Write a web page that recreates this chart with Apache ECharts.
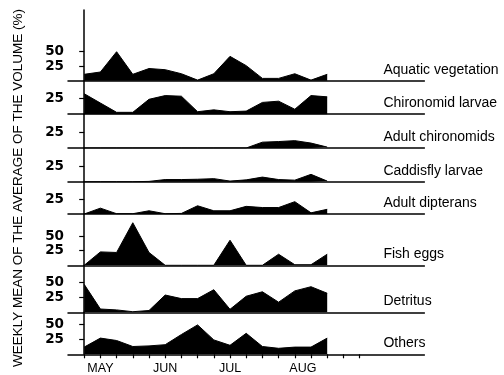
<!DOCTYPE html>
<html>
<head>
<meta charset="utf-8">
<script src="https://cdn.jsdelivr.net/npm/echarts@6/dist/echarts.min.js"></script>
<style>
  html, body { margin: 0; padding: 0; background: #fff; }
  #chart { width: 504px; height: 375px; }
</style>
</head>
<body>
<div id="chart"></div>
<script>
// weekly values (%), one point per week from early May to late August
const aquaticVegetation = [11, 15, 50, 11, 21, 19, 12, 1, 12, 42, 26, 4, 4, 12, 1, 11]
const chironomidLarvae = [33, 18, 3, 3, 24, 30, 29, 4, 7, 4, 5, 19, 21, 8, 30, 28]
const adultChironomids = [0, 0, 0, 0, 0, 0, 0, 0, 0, 0, 0, 9.5, 10.5, 12, 8, 1.5]
const caddisflyLarvae = [0, 0, 0, 0, 0.5, 3.5, 3.5, 4, 5, 1, 3, 7.5, 3.5, 2.5, 12, 1]
const adultDipterans = [0, 10, 0.5, 0.5, 5.5, 0.5, 1, 14, 5.5, 5.5, 13, 11, 11, 21, 2, 8]
const fishEggs = [0, 23, 22, 73, 22, 0, 0, 0, 0, 43, 0, 0, 19, 1, 1, 19]
const detritus = [47, 5.5, 4, 1, 3, 29, 23, 23, 38, 5, 27, 34.5, 17, 36, 43, 32]
const others = [12, 27, 23, 13, 14, 16, 33, 49, 24, 15, 35, 13, 10, 12, 12, 27]

const panelNames = ['Aquatic vegetation', 'Chironomid larvae', 'Adult chironomids', 'Caddisfly larvae',
  'Adult dipterans', 'Fish eggs', 'Detritus', 'Others']
const panelData = [aquaticVegetation, chironomidLarvae, adultChironomids, caddisflyLarvae,
  adultDipterans, fishEggs, detritus, others]
const panelMax = [122, 54, 55, 55, 55, 88, 79, 70]
const panelTicks = [[25, 50], [25], [25], [25], [25], [25, 50], [25, 50], [25, 50]]

const monthLabels = ['MAY', 'JUN', 'JUL', 'AUG']
const monthWeeks = [1, 5, 9, 13.5]
const tickWeeks = [0, 1, 2, 3, 4, 5, 6, 7, 8, 9, 10, 11, 12, 13, 14, 15, 16, 17]

// layout: y of each panel's top, last entry is the bottom axis
const edges = [10, 80.7, 114.2, 148, 181.7, 214, 265.3, 312.3, 354.3]

const myChart = echarts.init(document.getElementById('chart'))

const grids = [], xAxes = [], yAxes = [], series = []
const last = panelNames.length - 1

panelNames.forEach((name, k) => {
  grids.push({
    left: 68,
    width: 356.4,
    top: edges[k],
    height: edges[k + 1] - edges[k],
    containLabel: false,
    outerBoundsMode: 'none'
  })
  xAxes.push({
    gridIndex: k,
    type: 'value',
    min: -1,
    max: 21,
    name: name,
    nameLocation: 'end',
    nameGap: -41,
    nameTextStyle: {
      fontFamily: 'Liberation Sans',
      fontSize: 14,
      color: '#000',
      align: 'left',
      verticalAlign: 'bottom',
      padding: [0, 0, 4, 0]
    },
    axisLine: { show: true, lineStyle: { color: '#000', width: 1.5 } },
    axisTick: {
      show: k === last,
      length: 4,
      lineStyle: { color: '#000', width: 1.2 },
      customValues: tickWeeks
    },
    axisLabel: {
      show: k === last,
      customValues: monthWeeks,
      formatter: v => monthLabels[monthWeeks.indexOf(v)] || '',
      margin: 8,
      fontFamily: 'Liberation Sans',
      fontSize: 12.5,
      color: '#000'
    },
    splitLine: { show: false }
  })
  yAxes.push({
    gridIndex: k,
    type: 'value',
    min: 0,
    max: panelMax[k],
    axisLine: { show: true, lineStyle: { color: '#000', width: 1.5 } },
    axisTick: {
      show: true,
      length: 5,
      lineStyle: { color: '#000', width: 1.2 },
      customValues: panelTicks[k]
    },
    axisLabel: {
      customValues: panelTicks[k],
      margin: 4,
      fontFamily: 'DejaVu Sans',
      fontWeight: 'bold',
      fontSize: 13.5,
      color: '#000'
    },
    splitLine: { show: false }
  })
  series.push({
    name: name,
    type: 'line',
    xAxisIndex: k,
    yAxisIndex: k,
    data: panelData[k].map((v, i) => [i, v]),
    symbol: 'none',
    lineStyle: { color: '#000', width: 1 },
    areaStyle: { color: '#000', opacity: 1 },
    silent: true
  })
})

myChart.setOption({
  animation: false,
  grid: grids,
  xAxis: xAxes,
  yAxis: yAxes,
  series: series,
  graphic: [{
    type: 'text',
    x: 18.5,
    y: 188,
    rotation: Math.PI / 2,
    style: {
      text: 'WEEKLY MEAN OF THE AVERAGE OF THE VOLUME (%)',
      fill: '#000',
      font: '13.5px "Liberation Sans"',
      align: 'center',
      verticalAlign: 'middle'
    }
  }]
})
</script>
</body>
</html>
